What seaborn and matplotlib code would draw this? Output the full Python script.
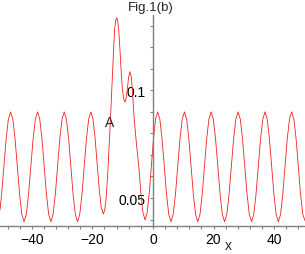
import numpy as np
import pandas as pd
import matplotlib
matplotlib.use("Agg")
import matplotlib.pyplot as plt
import seaborn as sns

# left periodic part
x_left = [-50.5, -49.97, -49.23, -48.48, -47.74, -47.0,
          -46.26, -45.52, -44.78, -44.03, -43.29, -42.55,
          -41.81, -41.07, -40.33, -39.58, -38.84, -38.1,
          -37.37, -36.63, -35.9, -35.17, -34.43, -33.7,
          -32.97, -32.23, -31.5, -30.77, -30.03, -29.3,
          -28.57, -27.83, -27.1, -26.37, -25.63, -24.9,
          -24.17, -23.43, -22.7, -21.97, -21.23, -20.5,
          -19.82, -19.13, -18.45, -17.77, -17.08, -16.4]
y_left = [0.0445, 0.0518, 0.0645, 0.0773, 0.0866, 0.090,
          0.0866, 0.0773, 0.0645, 0.0518, 0.0424, 0.039,
          0.0424, 0.0518, 0.0645, 0.0773, 0.0866, 0.090,
          0.0866, 0.0773, 0.0645, 0.0518, 0.0424, 0.039,
          0.0424, 0.0518, 0.0645, 0.0773, 0.0866, 0.090,
          0.0866, 0.0773, 0.0645, 0.0518, 0.0424, 0.039,
          0.0424, 0.0518, 0.0645, 0.0773, 0.0866, 0.090,
          0.0868, 0.0782, 0.0663, 0.0545, 0.0458, 0.0426]

# central hump
x_mid = [-15.9, -15.4, -14.9, -14.4, -14.0, -13.5, -13.0, -12.6, -12.3, -12.0,
         -11.7, -11.3, -10.9, -10.5, -10.1, -9.7, -9.2,
         -8.8, -8.4, -8.0, -7.6,
         -7.2, -6.8, -6.2, -5.4, -4.6, -4.0, -3.3, -2.6,
         -1.91, -1.22, -0.52, 0.17, 0.86, 1.55]
y_mid = [0.0445, 0.051, 0.062, 0.076, 0.0875, 0.103, 0.119, 0.129, 0.1325, 0.1337,
         0.1328, 0.128, 0.119, 0.109, 0.1005, 0.0962, 0.0946,
         0.0965, 0.1015, 0.1065, 0.1087,
         0.1065, 0.1005, 0.0866, 0.0745, 0.0637, 0.0524, 0.0432, 0.0398,
         0.0432, 0.0524, 0.0649, 0.0775, 0.0866, 0.090]

# right periodic part
x_right = [2.28, 3.02, 3.75, 4.48, 5.22, 5.95,
           6.69, 7.43, 8.18, 8.92, 9.66, 10.4,
           11.13, 11.87, 12.6, 13.33, 14.07, 14.8,
           15.53, 16.27, 17.0, 17.73, 18.47, 19.2,
           19.94, 20.68, 21.43, 22.17, 22.91, 23.65,
           24.39, 25.13, 25.88, 26.62, 27.36, 28.1,
           28.84, 29.58, 30.33, 31.07, 31.81, 32.55,
           33.29, 34.03, 34.78, 35.52, 36.26, 37.0,
           37.73, 38.47, 39.2, 39.93, 40.67, 41.4,
           42.13, 42.87, 43.6, 44.33, 45.07, 45.8,
           46.53, 47.27, 48.0, 48.73, 49.47, 50.2]
y_right = [0.0866, 0.0773, 0.0645, 0.0518, 0.0424, 0.039,
           0.0424, 0.0518, 0.0645, 0.0773, 0.0866, 0.090,
           0.0866, 0.0773, 0.0645, 0.0518, 0.0424, 0.039,
           0.0424, 0.0518, 0.0645, 0.0773, 0.0866, 0.090,
           0.0866, 0.0773, 0.0645, 0.0518, 0.0424, 0.039,
           0.0424, 0.0518, 0.0645, 0.0773, 0.0866, 0.090,
           0.0866, 0.0773, 0.0645, 0.0518, 0.0424, 0.039,
           0.0424, 0.0518, 0.0645, 0.0773, 0.0866, 0.090,
           0.0866, 0.0773, 0.0645, 0.0518, 0.0424, 0.039,
           0.0424, 0.0518, 0.0645, 0.0773, 0.0866, 0.090,
           0.0866, 0.0773, 0.0645, 0.0518, 0.0424, 0.0395]

x_major = [-40, -20, 0, 20, 40]
x_minor = [-48, -44, -36, -32, -28, -24, -16, -12, -8, -4,
           4, 8, 12, 16, 24, 28, 32, 36, 44, 48]
y_major = [0.05, 0.1]
y_major_labels = ["0.05", "0.1"]
y_minor = [0.04, 0.06, 0.07, 0.08, 0.09, 0.11, 0.12, 0.13]

df = pd.DataFrame({"x": x_left + x_mid + x_right,
                   "u": y_left + y_mid + y_right})

sns.set_theme(style="white")
plt.rcParams["font.family"] = ["Liberation Sans", "DejaVu Sans"]

fig = plt.figure(figsize=(3.05, 2.55), dpi=100)
ax = fig.add_axes([0, 28 / 255, 1, 211 / 255])
sns.lineplot(data=df, x="x", y="u", sort=False, estimator=None,
             color="#f02020", linewidth=0.6, ax=ax)

ax.set_xlim(-50.5, 50.2)
ax.set_ylim(0.037, 0.135)
ax.spines["left"].set_position(("data", 0))
for s in ["top", "right"]:
    ax.spines[s].set_visible(False)
for s in ["left", "bottom"]:
    ax.spines[s].set_color("#808080")
    ax.spines[s].set_linewidth(1.0)

ax.set_xticks(x_major)
ax.set_xticks(x_minor, minor=True)
ax.set_yticks(y_major)
ax.set_yticklabels(y_major_labels)
ax.set_yticks(y_minor, minor=True)
ax.tick_params(which="both", direction="out", color="#808080",
               length=2.5, width=0.8, labelsize=10, labelcolor="black")
ax.tick_params(axis="x", pad=2)
ax.tick_params(axis="y", pad=3)
ax.tick_params(which="both", bottom=True, left=True)
ax.set_xlabel("")
ax.set_ylabel("")

ax.text(-14.4, 0.0855, "A", fontsize=10, ha="center", va="center")
fig.text(151 / 305, 1 - 8 / 255, "Fig.1(b)", fontsize=9.5,
         ha="center", va="center")
fig.text(228 / 305, 9 / 255, "x", fontsize=10, ha="center", va="center")

fig.savefig("out.png", dpi=100)
